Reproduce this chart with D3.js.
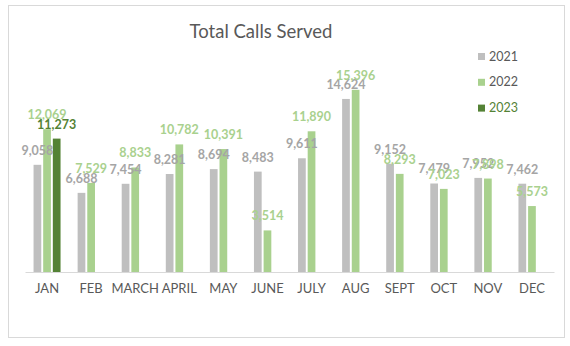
<!DOCTYPE html>
<html><head><meta charset="utf-8">
<script src="https://cdn.jsdelivr.net/npm/d3@7"></script>
<style>
html,body{margin:0;padding:0;background:#fff;}
svg{display:block;font-family:Lato, "Open Sans", sans-serif;}
</style></head>
<body>
<svg id="chart" width="570" height="346"></svg>
<script>
const months = ["JAN","FEB","MARCH","APRIL","MAY","JUNE","JULY","AUG","SEPT","OCT","NOV","DEC"];
const years = ["2021","2022","2023"];
const values2021 = [9058, 6688, 7454, 8281, 8694, 8483, 9611, 14624, 9152, 7479, 7952, 7462];
const values2022 = [12069, 7529, 8833, 10782, 10391, 3514, 11890, 15396, 8293, 7023, 7898, 5573];
const values2023 = [11273, null, null, null, null, null, null, null, null, null, null, null];
const barColors = ["#BFBFBF", "#A9D18E", "#548235"];
const labelColors = ["#A5A5A5", "#A9D18E", "#548235"];
const legendTextColors = ["#595959", "#595959", "#548235"];
const title = "Total Calls Served";

const series = [values2021, values2022, values2023];
const svg = d3.select("#chart");

svg.append("rect").attr("x", 8.5).attr("y", 5.5).attr("width", 556).attr("height", 332)
  .attr("fill", "#fff").attr("stroke", "#D9D9D9");

const x0 = d3.scaleBand().domain(months).range([25, 554]).paddingInner(0).paddingOuter(0);
const groupW = 27;
const x1 = d3.scaleBand().domain(years).range([0, groupW]).paddingInner(0.2);
const y = d3.scaleLinear().domain([0, 18000]).range([272, 59]);

const off = (x0.bandwidth() - groupW) / 2;

years.forEach((yr, si) => {
  const g = svg.append("g");
  const data = months.map((m, i) => ({m, v: series[si][i]})).filter(d => d.v != null);
  g.selectAll("rect").data(data).join("rect")
    .attr("x", d => x0(d.m) + off + x1(yr))
    .attr("y", d => y(d.v))
    .attr("width", x1.bandwidth())
    .attr("height", d => y(0) - y(d.v))
    .attr("fill", barColors[si]);
});

// axis
const axis = svg.append("g").attr("transform", "translate(0,272)")
  .call(d3.axisBottom(x0).tickSize(0).tickPadding(12));
axis.select(".domain").attr("stroke", "#D9D9D9");
axis.selectAll("text").attr("fill", "#595959").attr("font-size", "13px")
  .style("font-family", "Lato, sans-serif");

// data labels
const fmt = d3.format(",");
years.forEach((yr, si) => {
  const data = months.map((m, i) => ({m, v: series[si][i]})).filter(d => d.v != null);
  svg.append("g").selectAll("text").data(data).join("text")
    .attr("x", d => x0(d.m) + off + x1(yr) + x1.bandwidth() / 2)
    .attr("y", d => y(d.v) - 10)
    .attr("text-anchor", "middle")
    .attr("font-size", "12.5px")
    .attr("font-weight", "bold")
    .attr("fill", labelColors[si])
    .text(d => fmt(d.v));
});

// title
svg.append("text").attr("x", 261).attr("y", 37.5).attr("text-anchor", "middle")
  .attr("font-size", "18.5px").attr("fill", "#595959").text(title);

// legend
const lg = svg.append("g");
years.forEach((yr, i) => {
  const yy = 53 + i * 25.8;
  lg.append("rect").attr("x", 478).attr("y", yy).attr("width", 7).attr("height", 7).attr("fill", barColors[i]);
  lg.append("text").attr("x", 489).attr("y", yy + 7.5).attr("font-size", "12.5px")
    .attr("fill", legendTextColors[i]).text(yr);
});
</script>
</body></html>
